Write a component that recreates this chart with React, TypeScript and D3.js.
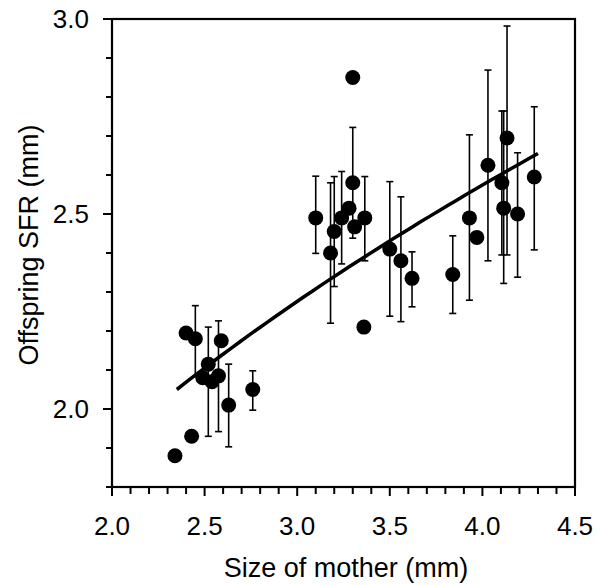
import React from "react";
import * as d3 from "d3";

// Data
const motherSize = [
  2.34, 2.40, 2.43, 2.45, 2.49, 2.52, 2.54, 2.575, 2.59, 2.63, 2.76,
  3.10, 3.18, 3.20, 3.24, 3.28, 3.30, 3.31, 3.30, 3.365, 3.36,
  3.50, 3.56, 3.62, 3.84, 3.93, 3.97, 4.03, 4.105, 4.115, 4.133, 4.19, 4.28,
];
const offspringSFR = [
  1.88, 2.195, 1.93, 2.18, 2.08, 2.115, 2.07, 2.085, 2.175, 2.01, 2.05,
  2.49, 2.40, 2.455, 2.49, 2.515, 2.58, 2.467, 2.85, 2.49, 2.21,
  2.41, 2.38, 2.335, 2.345, 2.49, 2.44, 2.625, 2.58, 2.515, 2.695, 2.50, 2.595,
];
const errLow = [
  null, null, null, 2.083, null, 1.93, null, 1.942, null, 1.903, 1.997,
  2.399, 2.22, 2.314, 2.372, null, 2.438, null, null, 2.38, null,
  2.238, 2.224, 2.262, 2.245, 2.279, null, 2.38, 2.395, 2.322, 2.395, 2.338, 2.408,
];
const errHigh = [
  null, null, null, 2.265, null, 2.21, null, 2.226, null, 2.115, 2.098,
  2.597, 2.58, 2.596, 2.609, null, 2.722, null, null, 2.596, null,
  2.583, 2.544, 2.403, 2.444, 2.703, null, 2.869, 2.764, 2.764, 2.982, 2.657, 2.775,
];
const xTicks = [2.0, 2.5, 3.0, 3.5, 4.0, 4.5];
const yTicks = [2.0, 2.5, 3.0];
// Fitted allometric curve (read from its ends): y = c * x^b
const fitXStart = 2.35;
const fitXEnd = 4.30;
const fitYStart = 2.05;
const fitExponent = 0.428;

const W = 597;
const H = 585;
const left = 112, right = 575, top = 19, bottom = 487;
const font = "'Liberation Sans', Arial, Helvetica, sans-serif";

export default function App() {
  const x = d3.scaleLinear().domain([2.0, 4.5]).range([left, right]);
  const y = d3.scaleLinear().domain([1.8, 3.0]).range([bottom, top]);

  const xMinor = d3.range(20, 46).map((v) => v / 10);
  const yMinor = d3.range(18, 31).map((v) => v / 10);

  const fitPts = d3.range(0, 41).map((i) => {
    const xv = fitXStart + ((fitXEnd - fitXStart) * i) / 40;
    return [xv, fitYStart * Math.pow(xv / fitXStart, fitExponent)] as [number, number];
  });
  const line = d3
    .line<[number, number]>()
    .x((d) => x(d[0]))
    .y((d) => y(d[1]));

  return (
    <svg
      width={W}
      height={H}
      style={{ position: "absolute", left: 0, top: 0, background: "#fff" }}
    >
      <rect x={0} y={0} width={W} height={H} fill="#fff" />
      {/* frame */}
      <rect
        x={left}
        y={top}
        width={right - left}
        height={bottom - top}
        fill="none"
        stroke="#000"
        strokeWidth={2.2}
      />
      {/* x ticks */}
      {xMinor.map((v, i) => (
        <line
          key={"xm" + i}
          x1={x(v)}
          x2={x(v)}
          y1={bottom}
          y2={bottom + (Math.abs((v * 2) % 1) < 1e-6 ? 9 : 7)}
          stroke="#000"
          strokeWidth={2}
        />
      ))}
      {/* y ticks */}
      {yMinor.map((v, i) => (
        <line
          key={"ym" + i}
          x1={left}
          x2={left - (Math.abs((v * 2) % 1) < 1e-6 ? 9 : 6)}
          y1={y(v)}
          y2={y(v)}
          stroke="#000"
          strokeWidth={2}
        />
      ))}
      {xTicks.map((v) => (
        <text
          key={"xt" + v}
          x={x(v)}
          y={535}
          textAnchor="middle"
          fontFamily={font}
          fontSize={26}
          fill="#000"
        >
          {v.toFixed(1)}
        </text>
      ))}
      {yTicks.map((v) => (
        <text
          key={"yt" + v}
          x={89}
          y={y(v) + 9}
          textAnchor="end"
          fontFamily={font}
          fontSize={26}
          fill="#000"
        >
          {v.toFixed(1)}
        </text>
      ))}
      {/* error bars */}
      {motherSize.map((mx, i) => {
        const lo = errLow[i];
        const hi = errHigh[i];
        if (lo == null || hi == null) return null;
        const cx = x(mx);
        return (
          <g key={"e" + i} stroke="#000" strokeWidth={1.6}>
            <line x1={cx} x2={cx} y1={y(lo)} y2={y(hi)} />
            <line x1={cx - 3.5} x2={cx + 3.5} y1={y(lo)} y2={y(lo)} />
            <line x1={cx - 3.5} x2={cx + 3.5} y1={y(hi)} y2={y(hi)} />
          </g>
        );
      })}
      {/* fit line */}
      <path d={line(fitPts) || ""} fill="none" stroke="#000" strokeWidth={3.5} />
      {/* points */}
      {motherSize.map((mx, i) => (
        <circle key={"p" + i} cx={x(mx)} cy={y(offspringSFR[i])} r={7.5} fill="#000" />
      ))}
      {/* axis titles */}
      <text
        x={346}
        y={577}
        textAnchor="middle"
        fontFamily={font}
        fontSize={27}
        fill="#000"
      >
        Size of mother (mm)
      </text>
      <text
        transform={`translate(38, ${245}) rotate(-90)`}
        textAnchor="middle"
        fontFamily={font}
        fontSize={27}
        fill="#000"
      >
        Offspring SFR (mm)
      </text>
    </svg>
  );
}
